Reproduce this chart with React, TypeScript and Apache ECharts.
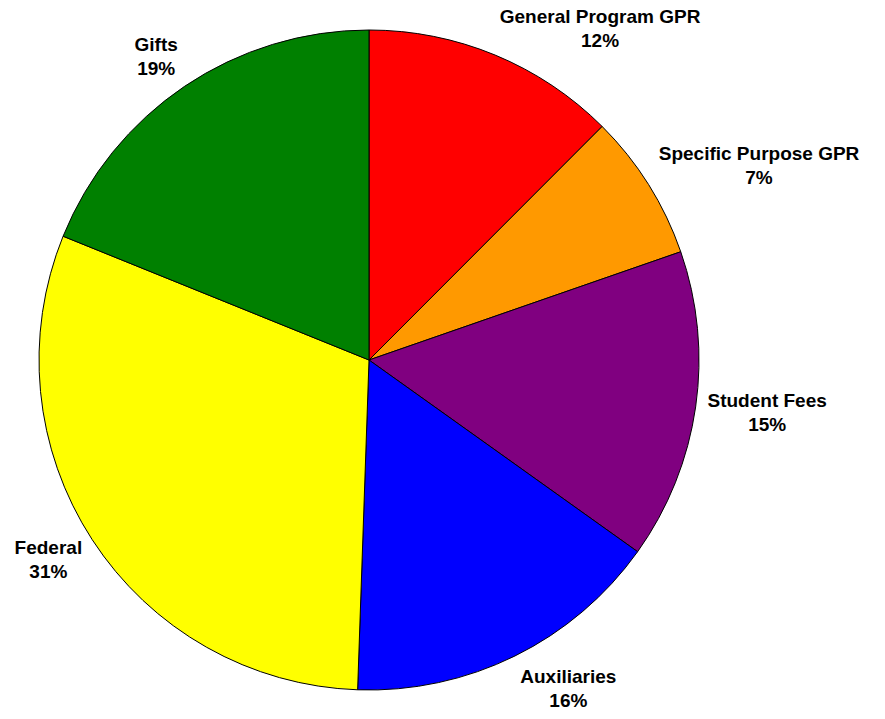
import React, { useEffect, useRef } from "react";
import * as echarts from "echarts";

const categories = [
  "General Program GPR",
  "Specific Purpose GPR",
  "Student Fees",
  "Auxiliaries",
  "Federal",
  "Gifts",
];
const values = [12.5, 7.2, 15.2, 15.7, 30.6, 18.9];
const colors = ["#FF0000", "#FF9900", "#800080", "#0000FF", "#FFFF00", "#008000"];

const W = 885;
const H = 719;
const CX = 369;
const CY = 360;
const R = 330;
const GAP = 12;
const EDGE = 4;

export default function App() {
  const ref = useRef<HTMLDivElement>(null);
  useEffect(() => {
    if (!ref.current) return;
    const chart = echarts.init(ref.current, undefined, { renderer: "svg" });
    const total = values.reduce((a, b) => a + b, 0);
    const mids: number[] = [];
    let acc = 0;
    values.forEach((v) => {
      const a0 = (acc / total) * 360;
      acc += v;
      const a1 = (acc / total) * 360;
      mids.push((a0 + a1) / 2);
    });
    chart.setOption({
      animation: false,
      backgroundColor: "#ffffff",
      series: [
        {
          type: "pie",
          center: [CX, CY],
          radius: [0, R],
          startAngle: 90,
          clockwise: true,
          avoidLabelOverlap: false,
          itemStyle: { borderColor: "#000000", borderWidth: 1 },
          label: {
            show: true,
            position: "outside",
            fontFamily: "'Liberation Sans', Arial, sans-serif",
            fontWeight: "bold",
            fontSize: 19,
            lineHeight: 24,
            color: "#000000",
            align: "center",
            formatter: (p: any) => `${p.name}\n${Math.round((p.value / total) * 100)}%`,
          },
          labelLine: { show: false },
          labelLayout: (params: any) => {
            const ang = (mids[params.dataIndex] * Math.PI) / 180;
            const dx = Math.sin(ang);
            const dy = -Math.cos(ang);
            const ax = CX + (R + GAP) * dx;
            const ay = CY + (R + GAP) * dy;
            const w = params.labelRect.width;
            const h = params.labelRect.height;
            let x = ax + (dx >= 0 ? 1 : -1) * (w / 2);
            let y = ay + dy * (h / 2);
            x = Math.min(Math.max(x, w / 2 + EDGE), W - w / 2 - EDGE);
            y = Math.min(Math.max(y, h / 2 + EDGE), H - h / 2 - EDGE);
            return { x, y, align: "center", verticalAlign: "middle" };
          },
          data: categories.map((c, i) => ({
            name: c,
            value: values[i],
            itemStyle: { color: colors[i] },
          })),
        },
      ],
    });
    return () => chart.dispose();
  }, []);
  return (
    <div
      ref={ref}
      style={{ position: "absolute", left: 0, top: 0, width: W, height: H }}
    />
  );
}
